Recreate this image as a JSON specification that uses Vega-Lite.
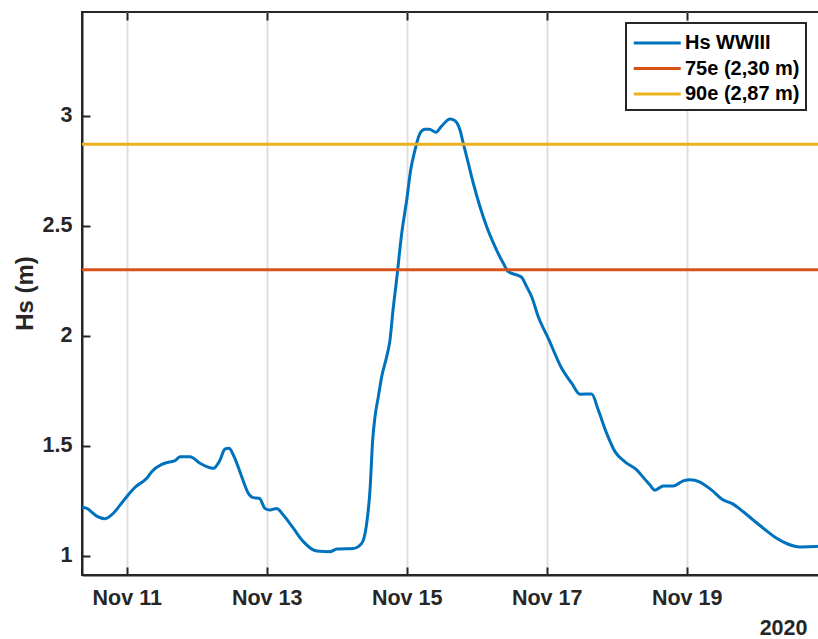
{
  "$schema": "https://vega.github.io/schema/vega-lite/v6.json",
  "autosize": {"type": "none"},
  "padding": {"left": 82, "top": 12, "right": 0, "bottom": 64},
  "width": 739,
  "height": 563,
  "background": "white",
  "config": {
    "font": "Liberation Sans",
    "view": {"stroke": "#262626", "strokeWidth": 2},
    "axis": {"labelFont": "Liberation Sans", "titleFont": "Liberation Sans"},
    "legend": {"strokeWidth": 2}
  },
  "resolve": {"axis": {"x": "independent", "y": "independent"}},
  "datasets": {
    "hs": [
      {"t": "2020-11-10T08:40", "v": 1.22, "s": "Hs WWIII"},
      {"t": "2020-11-10T10:20", "v": 1.215, "s": "Hs WWIII"},
      {"t": "2020-11-10T13:42", "v": 1.18, "s": "Hs WWIII"},
      {"t": "2020-11-10T16:34", "v": 1.168, "s": "Hs WWIII"},
      {"t": "2020-11-10T19:25", "v": 1.193, "s": "Hs WWIII"},
      {"t": "2020-11-10T21:42", "v": 1.23, "s": "Hs WWIII"},
      {"t": "2020-11-11T00:00", "v": 1.268, "s": "Hs WWIII"},
      {"t": "2020-11-11T02:51", "v": 1.311, "s": "Hs WWIII"},
      {"t": "2020-11-11T06:51", "v": 1.352, "s": "Hs WWIII"},
      {"t": "2020-11-11T08:34", "v": 1.382, "s": "Hs WWIII"},
      {"t": "2020-11-11T12:00", "v": 1.415, "s": "Hs WWIII"},
      {"t": "2020-11-11T14:16", "v": 1.425, "s": "Hs WWIII"},
      {"t": "2020-11-11T16:34", "v": 1.432, "s": "Hs WWIII"},
      {"t": "2020-11-11T18:16", "v": 1.45, "s": "Hs WWIII"},
      {"t": "2020-11-11T21:42", "v": 1.45, "s": "Hs WWIII"},
      {"t": "2020-11-12T01:08", "v": 1.42, "s": "Hs WWIII"},
      {"t": "2020-11-12T03:26", "v": 1.405, "s": "Hs WWIII"},
      {"t": "2020-11-12T05:41", "v": 1.397, "s": "Hs WWIII"},
      {"t": "2020-11-12T07:59", "v": 1.435, "s": "Hs WWIII"},
      {"t": "2020-11-12T09:42", "v": 1.485, "s": "Hs WWIII"},
      {"t": "2020-11-12T11:04", "v": 1.488, "s": "Hs WWIII"},
      {"t": "2020-11-12T12:33", "v": 1.458, "s": "Hs WWIII"},
      {"t": "2020-11-12T15:26", "v": 1.359, "s": "Hs WWIII"},
      {"t": "2020-11-12T17:41", "v": 1.284, "s": "Hs WWIII"},
      {"t": "2020-11-12T19:24", "v": 1.264, "s": "Hs WWIII"},
      {"t": "2020-11-12T21:28", "v": 1.261, "s": "Hs WWIII"},
      {"t": "2020-11-12T23:25", "v": 1.215, "s": "Hs WWIII"},
      {"t": "2020-11-13T01:08", "v": 1.208, "s": "Hs WWIII"},
      {"t": "2020-11-13T03:26", "v": 1.215, "s": "Hs WWIII"},
      {"t": "2020-11-13T05:41", "v": 1.185, "s": "Hs WWIII"},
      {"t": "2020-11-13T09:07", "v": 1.125, "s": "Hs WWIII"},
      {"t": "2020-11-13T12:33", "v": 1.064, "s": "Hs WWIII"},
      {"t": "2020-11-13T17:08", "v": 1.021, "s": "Hs WWIII"},
      {"t": "2020-11-13T21:42", "v": 1.018, "s": "Hs WWIII"},
      {"t": "2020-11-14T00:00", "v": 1.03, "s": "Hs WWIII"},
      {"t": "2020-11-14T05:41", "v": 1.033, "s": "Hs WWIII"},
      {"t": "2020-11-14T08:34", "v": 1.056, "s": "Hs WWIII"},
      {"t": "2020-11-14T10:17", "v": 1.147, "s": "Hs WWIII"},
      {"t": "2020-11-14T11:25", "v": 1.299, "s": "Hs WWIII"},
      {"t": "2020-11-14T12:20", "v": 1.526, "s": "Hs WWIII"},
      {"t": "2020-11-14T13:08", "v": 1.632, "s": "Hs WWIII"},
      {"t": "2020-11-14T14:16", "v": 1.723, "s": "Hs WWIII"},
      {"t": "2020-11-14T15:26", "v": 1.814, "s": "Hs WWIII"},
      {"t": "2020-11-14T17:08", "v": 1.905, "s": "Hs WWIII"},
      {"t": "2020-11-14T18:16", "v": 1.98, "s": "Hs WWIII"},
      {"t": "2020-11-14T19:20", "v": 2.12, "s": "Hs WWIII"},
      {"t": "2020-11-14T20:30", "v": 2.25, "s": "Hs WWIII"},
      {"t": "2020-11-14T22:17", "v": 2.465, "s": "Hs WWIII"},
      {"t": "2020-11-15T00:00", "v": 2.617, "s": "Hs WWIII"},
      {"t": "2020-11-15T01:22", "v": 2.753, "s": "Hs WWIII"},
      {"t": "2020-11-15T02:51", "v": 2.844, "s": "Hs WWIII"},
      {"t": "2020-11-15T04:34", "v": 2.92, "s": "Hs WWIII"},
      {"t": "2020-11-15T06:16", "v": 2.938, "s": "Hs WWIII"},
      {"t": "2020-11-15T07:45", "v": 2.938, "s": "Hs WWIII"},
      {"t": "2020-11-15T10:03", "v": 2.925, "s": "Hs WWIII"},
      {"t": "2020-11-15T12:00", "v": 2.953, "s": "Hs WWIII"},
      {"t": "2020-11-15T14:51", "v": 2.985, "s": "Hs WWIII"},
      {"t": "2020-11-15T16:34", "v": 2.977, "s": "Hs WWIII"},
      {"t": "2020-11-15T18:16", "v": 2.935, "s": "Hs WWIII"},
      {"t": "2020-11-15T19:24", "v": 2.874, "s": "Hs WWIII"},
      {"t": "2020-11-15T21:07", "v": 2.784, "s": "Hs WWIII"},
      {"t": "2020-11-15T22:50", "v": 2.693, "s": "Hs WWIII"},
      {"t": "2020-11-16T01:08", "v": 2.586, "s": "Hs WWIII"},
      {"t": "2020-11-16T03:26", "v": 2.495, "s": "Hs WWIII"},
      {"t": "2020-11-16T06:16", "v": 2.405, "s": "Hs WWIII"},
      {"t": "2020-11-16T09:07", "v": 2.329, "s": "Hs WWIII"},
      {"t": "2020-11-16T10:50", "v": 2.291, "s": "Hs WWIII"},
      {"t": "2020-11-16T13:43", "v": 2.276, "s": "Hs WWIII"},
      {"t": "2020-11-16T15:26", "v": 2.265, "s": "Hs WWIII"},
      {"t": "2020-11-16T17:08", "v": 2.223, "s": "Hs WWIII"},
      {"t": "2020-11-16T18:51", "v": 2.177, "s": "Hs WWIII"},
      {"t": "2020-11-16T21:07", "v": 2.086, "s": "Hs WWIII"},
      {"t": "2020-11-17T00:33", "v": 1.988, "s": "Hs WWIII"},
      {"t": "2020-11-17T05:08", "v": 1.852, "s": "Hs WWIII"},
      {"t": "2020-11-17T08:34", "v": 1.784, "s": "Hs WWIII"},
      {"t": "2020-11-17T11:25", "v": 1.734, "s": "Hs WWIII"},
      {"t": "2020-11-17T15:26", "v": 1.735, "s": "Hs WWIII"},
      {"t": "2020-11-17T17:41", "v": 1.662, "s": "Hs WWIII"},
      {"t": "2020-11-17T20:34", "v": 1.556, "s": "Hs WWIII"},
      {"t": "2020-11-17T23:25", "v": 1.473, "s": "Hs WWIII"},
      {"t": "2020-11-18T02:50", "v": 1.427, "s": "Hs WWIII"},
      {"t": "2020-11-18T06:51", "v": 1.39, "s": "Hs WWIII"},
      {"t": "2020-11-18T09:42", "v": 1.347, "s": "Hs WWIII"},
      {"t": "2020-11-18T11:25", "v": 1.321, "s": "Hs WWIII"},
      {"t": "2020-11-18T13:08", "v": 1.298, "s": "Hs WWIII"},
      {"t": "2020-11-18T15:59", "v": 1.317, "s": "Hs WWIII"},
      {"t": "2020-11-18T19:24", "v": 1.317, "s": "Hs WWIII"},
      {"t": "2020-11-18T22:50", "v": 1.34, "s": "Hs WWIII"},
      {"t": "2020-11-19T01:08", "v": 1.345, "s": "Hs WWIII"},
      {"t": "2020-11-19T04:34", "v": 1.335, "s": "Hs WWIII"},
      {"t": "2020-11-19T08:34", "v": 1.298, "s": "Hs WWIII"},
      {"t": "2020-11-19T12:33", "v": 1.253, "s": "Hs WWIII"},
      {"t": "2020-11-19T15:26", "v": 1.238, "s": "Hs WWIII"},
      {"t": "2020-11-19T19:24", "v": 1.2, "s": "Hs WWIII"},
      {"t": "2020-11-19T22:50", "v": 1.162, "s": "Hs WWIII"},
      {"t": "2020-11-20T02:16", "v": 1.125, "s": "Hs WWIII"},
      {"t": "2020-11-20T06:51", "v": 1.079, "s": "Hs WWIII"},
      {"t": "2020-11-20T10:50", "v": 1.052, "s": "Hs WWIII"},
      {"t": "2020-11-20T14:51", "v": 1.04, "s": "Hs WWIII"},
      {"t": "2020-11-20T20:34", "v": 1.042, "s": "Hs WWIII"},
      {"t": "2020-11-20T22:03", "v": 1.045, "s": "Hs WWIII"}
    ],
    "thr": [
      {"v": 2.30, "s": "75e (2,30 m)"},
      {"v": 2.87, "s": "90e (2,87 m)"}
    ]
  },
  "encoding": {
    "color": {
      "field": "s",
      "type": "nominal",
      "scale": {
        "domain": ["Hs WWIII", "75e (2,30 m)", "90e (2,87 m)"],
        "range": ["#0072BD", "#D95319", "#EDB120"]
      },
      "legend": {
        "title": null,
        "orient": "none",
        "legendX": 544,
        "legendY": 11,
        "symbolType": "M-1,0H2.84",
        "symbolSize": 600,
        "symbolStrokeWidth": 3,
        "labelFont": "Liberation Sans",
        "labelFontSize": 20,
        "labelFontWeight": "bold",
        "labelColor": "#000000",
        "labelOffset": 25,
        "rowPadding": 1.5,
        "padding": 6,
        "strokeColor": "#262626",
        "fillColor": "white"
      }
    }
  },
  "layer": [
    {
      "data": {"name": "hs"},
      "mark": {"type": "line", "strokeWidth": 3, "clip": true, "interpolate": "monotone"},
      "encoding": {
        "x": {
          "field": "t",
          "type": "temporal",
          "scale": {"domain": ["2020-11-10T08:40", "2020-11-20T22:03"]},
          "axis": {
            "orient": "bottom",
            "values": [
              {"year": 2020, "month": 11, "date": 11},
              {"year": 2020, "month": 11, "date": 13},
              {"year": 2020, "month": 11, "date": 15},
              {"year": 2020, "month": 11, "date": 17},
              {"year": 2020, "month": 11, "date": 19}
            ],
            "format": "%b %d",
            "labelFontSize": 21.5,
            "labelFontWeight": "bold",
            "labelColor": "#262626",
            "labelPadding": 12,
            "ticks": false,
            "domainColor": "#262626",
            "domainWidth": 2,
            "grid": true,
            "gridColor": "#dfdfdf",
            "gridWidth": 2,
            "title": "2020",
            "titleFontSize": 21.5,
            "titleFontWeight": "bold",
            "titleColor": "#262626",
            "titleAlign": "right",
            "titleAnchor": "end",
            "titleBaseline": "alphabetic",
            "titleX": 725,
            "titleY": 59
          }
        },
        "y": {
          "field": "v",
          "type": "quantitative",
          "scale": {"domain": [0.9123, 3.4714], "nice": false, "zero": false},
          "axis": {
            "orient": "left",
            "values": [1, 1.5, 2, 2.5, 3],
            "format": "~g",
            "labelFontSize": 21.5,
            "labelFontWeight": "bold",
            "labelColor": "#262626",
            "labelPadding": 10,
            "ticks": false,
            "domainColor": "#262626",
            "domainWidth": 2,
            "grid": false,
            "title": "Hs (m)",
            "titleFontSize": 24,
            "titleFontWeight": "bold",
            "titleColor": "#262626",
            "titleBaseline": "alphabetic",
            "titleAlign": "center",
            "titleAngle": -90,
            "titleX": -50,
            "titleY": 281
          }
        }
      }
    },
    {
      "data": {"name": "hs"},
      "mark": {"type": "line", "strokeOpacity": 0, "clip": true},
      "encoding": {
        "x": {
          "field": "t",
          "type": "temporal",
          "axis": {
            "orient": "top",
            "offset": -563,
            "values": [
              {"year": 2020, "month": 11, "date": 11},
              {"year": 2020, "month": 11, "date": 13},
              {"year": 2020, "month": 11, "date": 15},
              {"year": 2020, "month": 11, "date": 17},
              {"year": 2020, "month": 11, "date": 19}
            ],
            "labels": false,
            "domain": false,
            "grid": false,
            "title": null,
            "ticks": true,
            "tickSize": 8,
            "tickWidth": 2,
            "tickColor": "#262626"
          }
        },
        "y": {"field": "v", "type": "quantitative", "axis": null}
      }
    },
    {
      "data": {"name": "hs"},
      "mark": {"type": "line", "strokeOpacity": 0, "clip": true},
      "encoding": {
        "x": {
          "field": "t",
          "type": "temporal",
          "axis": {
            "orient": "bottom",
            "offset": -563,
            "values": [
              {"year": 2020, "month": 11, "date": 11},
              {"year": 2020, "month": 11, "date": 13},
              {"year": 2020, "month": 11, "date": 15},
              {"year": 2020, "month": 11, "date": 17},
              {"year": 2020, "month": 11, "date": 19}
            ],
            "labels": false,
            "domain": false,
            "grid": false,
            "title": null,
            "ticks": true,
            "tickSize": 8,
            "tickWidth": 2,
            "tickColor": "#262626"
          }
        },
        "y": {"field": "v", "type": "quantitative", "axis": null}
      }
    },
    {
      "data": {"name": "thr"},
      "mark": {"type": "rule", "strokeWidth": 3},
      "encoding": {
        "y": {
          "field": "v",
          "type": "quantitative",
          "axis": {
            "orient": "right",
            "offset": -739,
            "values": [1, 1.5, 2, 2.5, 3],
            "labels": false,
            "domain": false,
            "grid": false,
            "title": null,
            "ticks": true,
            "tickSize": 8,
            "tickWidth": 2,
            "tickColor": "#262626"
          }
        }
      }
    }
  ]
}
